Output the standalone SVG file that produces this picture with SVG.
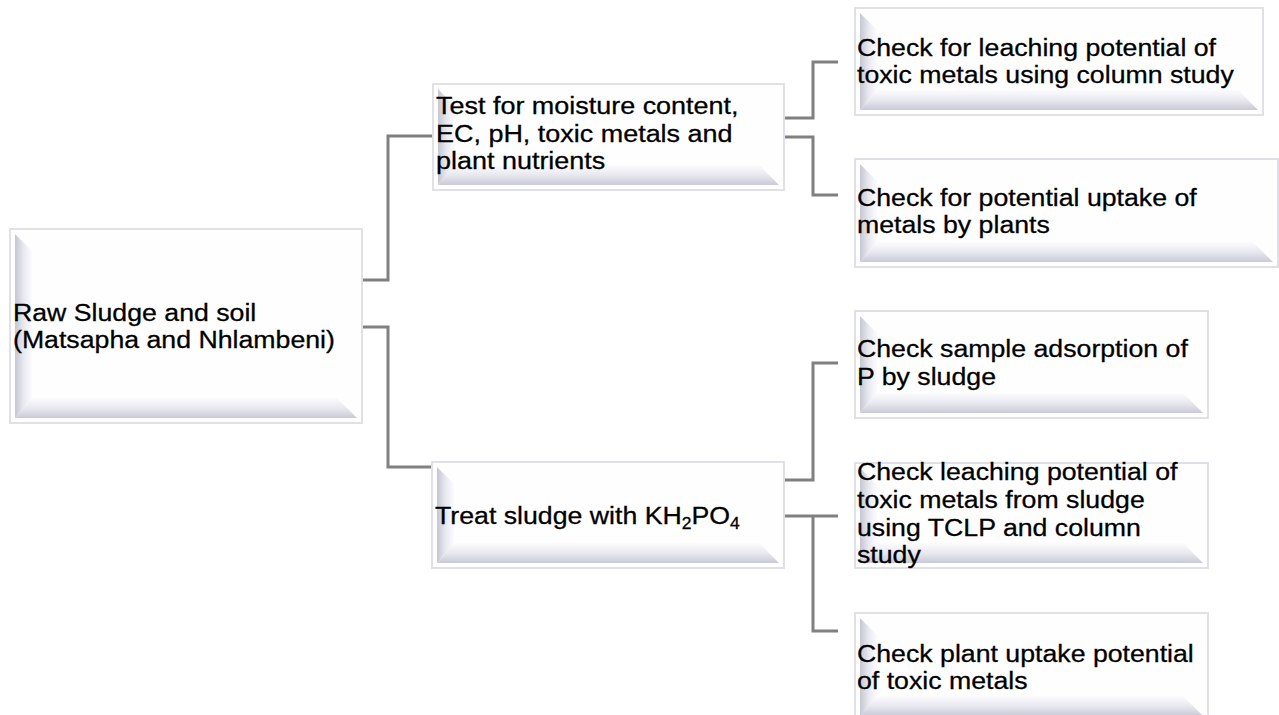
<svg xmlns="http://www.w3.org/2000/svg" width="1279" height="715" viewBox="0 0 1279 715">
<style>
.frame{fill:#fefeff;stroke:#e0e0e6;stroke-width:2}
.lb{fill:url(#gl)}
.bb{fill:url(#gb)}
.t{font-family:"Liberation Sans",Arial,sans-serif;font-size:24.5px;fill:#000;stroke:#000;stroke-width:0.3}
.sub{font-size:16px}
.conn{fill:none;stroke:#808080;stroke-width:3}
</style>
<defs>
<linearGradient id="gl" x1="0" y1="0" x2="1" y2="0">
<stop offset="0" stop-color="#c6c6d2"/>
<stop offset="0.5" stop-color="#e8e8f0"/>
<stop offset="1" stop-color="#fcfcff"/>
</linearGradient>
<linearGradient id="gb" x1="0" y1="0" x2="0" y2="1">
<stop offset="0" stop-color="#fcfcff"/>
<stop offset="0.5" stop-color="#e8e8f0"/>
<stop offset="1" stop-color="#cacad6"/>
</linearGradient>
</defs>
<rect width="1279" height="715" fill="#ffffff"/>
<g id="connectors">
<polyline class="conn" points="362,280 388,280 388,136 433,136"/>
<polyline class="conn" points="362,327 388,327 388,467 433,467"/>
<polyline class="conn" points="784,118 813,118 813,62 838,62"/>
<polyline class="conn" points="784,137 813,137 813,195 838,195"/>
<polyline class="conn" points="784,480 813,480 813,363 838,363"/>
<polyline class="conn" points="784,516 838,516"/>
<polyline class="conn" points="813,516 813,631 838,631"/>
</g>
<g id="raw">
<rect class="frame" x="10" y="229" width="352" height="194"/>
<polygon class="lb" points="15,234 32,251 32,398 15,418"/>
<polygon class="bb" points="32,398 337,398 357,418 15,418"/>
<text class="t" transform="translate(13 0) scale(1.09 1)"><tspan x="0" y="321">Raw Sludge and soil</tspan><tspan x="0" y="348">(Matsapha and Nhlambeni)</tspan></text>
</g>
<g id="test">
<rect class="frame" x="433" y="84" width="351" height="106"/>
<polygon class="lb" points="438,89 455,106 455,165 438,185"/>
<polygon class="bb" points="455,165 759,165 779,185 438,185"/>
<text class="t" transform="translate(436 0) scale(1.1 1)"><tspan x="0" y="114">Test for moisture content,</tspan><tspan x="0" y="142">EC, pH, toxic metals and</tspan><tspan x="0" y="169">plant nutrients</tspan></text>
</g>
<g id="leach1">
<rect class="frame" x="855" y="8" width="408" height="107"/>
<polygon class="lb" points="860,13 877,30 877,90 860,110"/>
<polygon class="bb" points="877,90 1238,90 1258,110 860,110"/>
<text class="t" transform="translate(857 0) scale(1.09 1)"><tspan x="0" y="56">Check for leaching potential of</tspan><tspan x="0" y="83">toxic metals using column study</tspan></text>
</g>
<g id="uptake1">
<rect class="frame" x="855" y="159" width="423" height="108"/>
<polygon class="lb" points="860,164 877,181 877,242 860,262"/>
<polygon class="bb" points="877,242 1253,242 1273,262 860,262"/>
<text class="t" transform="translate(857 0) scale(1.09 1)"><tspan x="0" y="206">Check for potential uptake of</tspan><tspan x="0" y="233">metals by plants</tspan></text>
</g>
<g id="treat">
<rect class="frame" x="432" y="462" width="352" height="106"/>
<polygon class="lb" points="437,467 454,484 454,543 437,563"/>
<polygon class="bb" points="454,543 759,543 779,563 437,563"/>
<text class="t" transform="translate(435 0) scale(1.09 1)"><tspan x="0" y="524">Treat sludge with KH</tspan><tspan class="sub" dy="5">2</tspan><tspan dy="-5">PO</tspan><tspan class="sub" dy="5">4</tspan></text>
</g>
<g id="adsorb">
<rect class="frame" x="855" y="311" width="353" height="107"/>
<polygon class="lb" points="860,316 877,333 877,393 860,413"/>
<polygon class="bb" points="877,393 1183,393 1203,413 860,413"/>
<text class="t" transform="translate(857 0) scale(1.09 1)"><tspan x="0" y="357">Check sample adsorption of</tspan><tspan x="0" y="385">P by sludge</tspan></text>
</g>
<g id="leach2">
<rect class="frame" x="855" y="463" width="353" height="105"/>
<polygon class="lb" points="860,468 877,485 877,543 860,563"/>
<polygon class="bb" points="877,543 1183,543 1203,563 860,563"/>
<text class="t" transform="translate(857 0) scale(1.09 1)"><tspan x="0" y="480">Check leaching potential of</tspan><tspan x="0" y="508">toxic metals from sludge</tspan><tspan x="0" y="536">using TCLP and column</tspan><tspan x="0" y="563">study</tspan></text>
</g>
<g id="uptake2">
<rect class="frame" x="855" y="613" width="353" height="108"/>
<polygon class="lb" points="860,618 877,635 877,696 860,716"/>
<polygon class="bb" points="877,696 1183,696 1203,716 860,716"/>
<text class="t" transform="translate(857 0) scale(1.09 1)"><tspan x="0" y="662">Check plant uptake potential</tspan><tspan x="0" y="689">of toxic metals</tspan></text>
</g>
</svg>
